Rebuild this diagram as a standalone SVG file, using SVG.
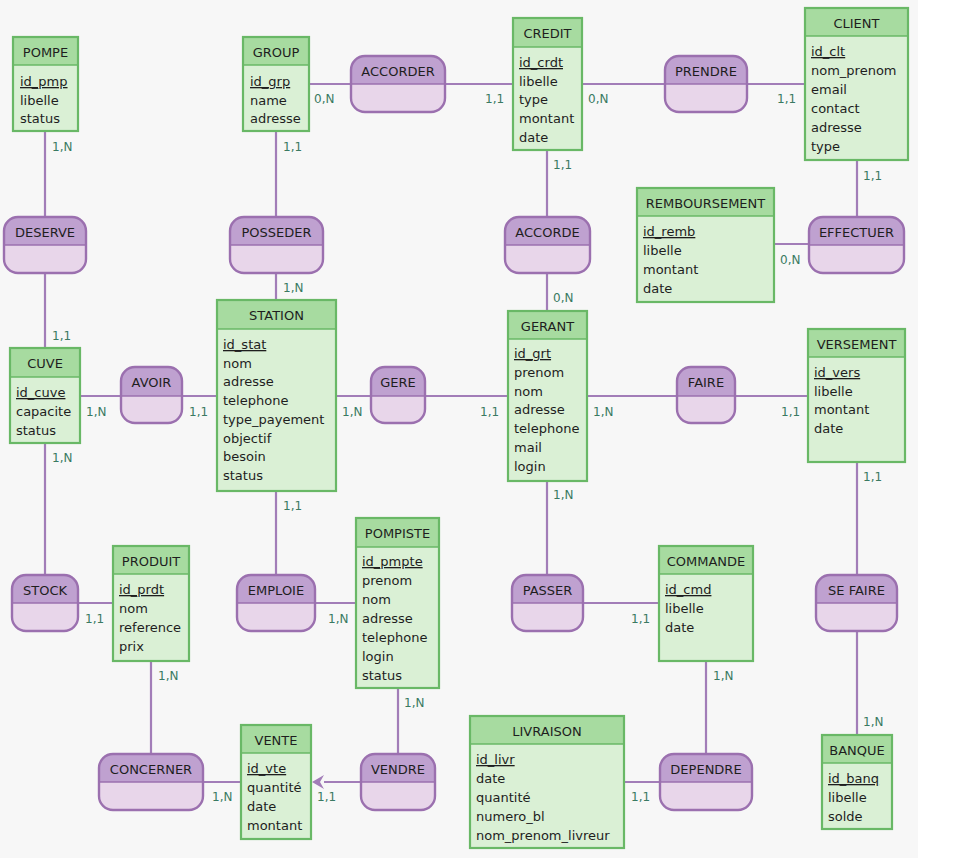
<svg xmlns="http://www.w3.org/2000/svg" width="963" height="868" viewBox="0 0 963 868">
<defs>
<style>
.bg{fill:#f7f7f7}
.eb{fill:#daf0d5}
.eh{fill:#a7dba0}
.eo{fill:none;stroke:#69b866;stroke-width:2.2}
.el{stroke:#69b866;stroke-width:1.5}
.rb{fill:#e8d6ea}
.rh{fill:#bfa1d0}
.ro{fill:none;stroke:#9b70af;stroke-width:2.4}
.rl{stroke:#9b70af;stroke-width:1.5}
.c{stroke:#a27db8;stroke-width:2.2;fill:none}
text{font-family:"DejaVu Sans",Verdana,sans-serif;font-size:13px;fill:#1e1e1e}
.t{text-anchor:middle}
.k{text-decoration:underline}
.cd{font-size:12px;fill:#3a7a62}
</style>
<marker id="arr" markerUnits="userSpaceOnUse" markerWidth="14" markerHeight="16" refX="1" refY="7" orient="auto">
<path d="M13 7 L1 0 L5 7 L1 14 Z" fill="#a27db8"/>
</marker>
</defs>
<rect x="0" y="0" width="963" height="868" fill="#ffffff"/>
<rect class="bg" x="0" y="0" width="918" height="858"/>

<g id="connectors">
<path class="c" d="M309 84 H351"/>
<path class="c" d="M445 84 H513"/>
<path class="c" d="M582 84 H665"/>
<path class="c" d="M747 84 H805"/>
<path class="c" d="M45 131 V217"/>
<path class="c" d="M45 273 V348"/>
<path class="c" d="M276 131 V217"/>
<path class="c" d="M276 273 V300"/>
<path class="c" d="M547 150 V217"/>
<path class="c" d="M547 273 V311"/>
<path class="c" d="M857 160 V217"/>
<path class="c" d="M774 244 H809"/>
<path class="c" d="M80 396 H121"/>
<path class="c" d="M182 396 H217"/>
<path class="c" d="M336 396 H371"/>
<path class="c" d="M425 396 H508"/>
<path class="c" d="M587 396 H677"/>
<path class="c" d="M735 396 H808"/>
<path class="c" d="M857 462 V575"/>
<path class="c" d="M857 631 V735"/>
<path class="c" d="M45 443 V575"/>
<path class="c" d="M78 603 H113"/>
<path class="c" d="M276 491 V575"/>
<path class="c" d="M315 603 H356"/>
<path class="c" d="M547 481 V575"/>
<path class="c" d="M583 603 H659"/>
<path class="c" d="M706 661 V754"/>
<path class="c" d="M624 782 H660"/>
<path class="c" d="M151 661 V754"/>
<path class="c" d="M203 782 H241"/>
<path class="c" d="M398 688 V754"/>
<path class="c" d="M361 782 H324" marker-end="url(#arr)"/>
<text class="cd" x="314" y="103">0,N</text>
<text class="cd" x="485" y="103">1,1</text>
<text class="cd" x="588" y="103">0,N</text>
<text class="cd" x="777" y="103">1,1</text>
<text class="cd" x="52" y="151">1,N</text>
<text class="cd" x="283" y="151">1,1</text>
<text class="cd" x="553" y="169">1,1</text>
<text class="cd" x="863" y="180">1,1</text>
<text class="cd" x="780" y="264">0,N</text>
<text class="cd" x="52" y="340">1,1</text>
<text class="cd" x="283" y="292">1,N</text>
<text class="cd" x="553" y="302">0,N</text>
<text class="cd" x="86" y="416">1,N</text>
<text class="cd" x="189" y="416">1,1</text>
<text class="cd" x="342" y="416">1,N</text>
<text class="cd" x="480" y="416">1,1</text>
<text class="cd" x="593" y="416">1,N</text>
<text class="cd" x="781" y="416">1,1</text>
<text class="cd" x="52" y="462">1,N</text>
<text class="cd" x="283" y="510">1,1</text>
<text class="cd" x="553" y="499">1,N</text>
<text class="cd" x="863" y="481">1,1</text>
<text class="cd" x="85" y="623">1,1</text>
<text class="cd" x="328" y="623">1,N</text>
<text class="cd" x="631" y="623">1,1</text>
<text class="cd" x="158" y="680">1,N</text>
<text class="cd" x="713" y="680">1,N</text>
<text class="cd" x="404" y="707">1,N</text>
<text class="cd" x="863" y="726">1,N</text>
<text class="cd" x="212" y="801">1,N</text>
<text class="cd" x="317" y="801">1,1</text>
<text class="cd" x="631" y="801">1,1</text>
</g>

<!-- Entities -->
<g id="POMPE">
<rect class="eb" x="13" y="37" width="65" height="94"/>
<rect class="eh" x="13" y="37" width="65" height="28"/>
<line class="el" x1="13" y1="65" x2="78" y2="65"/>
<rect class="eo" x="13" y="37" width="65" height="94"/>
<text class="t" x="45.5" y="57">POMPE</text>
<text class="k" x="20" y="86">id_pmp</text>
<text x="20" y="105">libelle</text>
<text x="20" y="123">status</text>
</g>
<g id="GROUP">
<rect class="eb" x="243" y="37" width="66" height="94"/>
<rect class="eh" x="243" y="37" width="66" height="28"/>
<line class="el" x1="243" y1="65" x2="309" y2="65"/>
<rect class="eo" x="243" y="37" width="66" height="94"/>
<text class="t" x="276" y="57">GROUP</text>
<text class="k" x="250" y="86">id_grp</text>
<text x="250" y="105">name</text>
<text x="250" y="123">adresse</text>
</g>
<g id="CREDIT">
<rect class="eb" x="513" y="18" width="69" height="132"/>
<rect class="eh" x="513" y="18" width="69" height="29"/>
<line class="el" x1="513" y1="47" x2="582" y2="47"/>
<rect class="eo" x="513" y="18" width="69" height="132"/>
<text class="t" x="547.5" y="38">CREDIT</text>
<text class="k" x="519" y="67">id_crdt</text>
<text x="519" y="86">libelle</text>
<text x="519" y="104">type</text>
<text x="519" y="123">montant</text>
<text x="519" y="142">date</text>
</g>
<g id="CLIENT">
<rect class="eb" x="805" y="8" width="103" height="152"/>
<rect class="eh" x="805" y="8" width="103" height="28"/>
<line class="el" x1="805" y1="36" x2="908" y2="36"/>
<rect class="eo" x="805" y="8" width="103" height="152"/>
<text class="t" x="856.5" y="28">CLIENT</text>
<text class="k" x="811" y="56">id_clt</text>
<text x="811" y="75">nom_prenom</text>
<text x="811" y="94">email</text>
<text x="811" y="113">contact</text>
<text x="811" y="132">adresse</text>
<text x="811" y="151">type</text>
</g>
<g id="REMBOURSEMENT">
<rect class="eb" x="637" y="188" width="137" height="114"/>
<rect class="eh" x="637" y="188" width="137" height="28"/>
<line class="el" x1="637" y1="216" x2="774" y2="216"/>
<rect class="eo" x="637" y="188" width="137" height="114"/>
<text class="t" x="705.5" y="208">REMBOURSEMENT</text>
<text class="k" x="643" y="236">id_remb</text>
<text x="643" y="255">libelle</text>
<text x="643" y="274">montant</text>
<text x="643" y="293">date</text>
</g>
<g id="STATION">
<rect class="eb" x="217" y="300" width="119" height="191"/>
<rect class="eh" x="217" y="300" width="119" height="29"/>
<line class="el" x1="217" y1="329" x2="336" y2="329"/>
<rect class="eo" x="217" y="300" width="119" height="191"/>
<text class="t" x="276.5" y="320">STATION</text>
<text class="k" x="223" y="349">id_stat</text>
<text x="223" y="368">nom</text>
<text x="223" y="386">adresse</text>
<text x="223" y="405">telephone</text>
<text x="223" y="424">type_payement</text>
<text x="223" y="443">objectif</text>
<text x="223" y="461">besoin</text>
<text x="223" y="480">status</text>
</g>
<g id="CUVE">
<rect class="eb" x="10" y="348" width="70" height="95"/>
<rect class="eh" x="10" y="348" width="70" height="29"/>
<line class="el" x1="10" y1="377" x2="80" y2="377"/>
<rect class="eo" x="10" y="348" width="70" height="95"/>
<text class="t" x="45" y="368">CUVE</text>
<text class="k" x="16" y="397">id_cuve</text>
<text x="16" y="416">capacite</text>
<text x="16" y="435">status</text>
</g>
<g id="GERANT">
<rect class="eb" x="508" y="311" width="79" height="170"/>
<rect class="eh" x="508" y="311" width="79" height="28"/>
<line class="el" x1="508" y1="339" x2="587" y2="339"/>
<rect class="eo" x="508" y="311" width="79" height="170"/>
<text class="t" x="547.5" y="331">GERANT</text>
<text class="k" x="514" y="358">id_grt</text>
<text x="514" y="377">prenom</text>
<text x="514" y="396">nom</text>
<text x="514" y="414">adresse</text>
<text x="514" y="433">telephone</text>
<text x="514" y="452">mail</text>
<text x="514" y="471">login</text>
</g>
<g id="VERSEMENT">
<rect class="eb" x="808" y="329" width="97" height="133"/>
<rect class="eh" x="808" y="329" width="97" height="28"/>
<line class="el" x1="808" y1="357" x2="905" y2="357"/>
<rect class="eo" x="808" y="329" width="97" height="133"/>
<text class="t" x="856.5" y="349">VERSEMENT</text>
<text class="k" x="814" y="377">id_vers</text>
<text x="814" y="396">libelle</text>
<text x="814" y="414">montant</text>
<text x="814" y="433">date</text>
</g>
<g id="PRODUIT">
<rect class="eb" x="113" y="546" width="76" height="115"/>
<rect class="eh" x="113" y="546" width="76" height="28"/>
<line class="el" x1="113" y1="574" x2="189" y2="574"/>
<rect class="eo" x="113" y="546" width="76" height="115"/>
<text class="t" x="151" y="566">PRODUIT</text>
<text class="k" x="119" y="594">id_prdt</text>
<text x="119" y="613">nom</text>
<text x="119" y="632">reference</text>
<text x="119" y="651">prix</text>
</g>
<g id="POMPISTE">
<rect class="eb" x="356" y="518" width="83" height="170"/>
<rect class="eh" x="356" y="518" width="83" height="29"/>
<line class="el" x1="356" y1="547" x2="439" y2="547"/>
<rect class="eo" x="356" y="518" width="83" height="170"/>
<text class="t" x="397.5" y="538">POMPISTE</text>
<text class="k" x="362" y="566">id_pmpte</text>
<text x="362" y="585">prenom</text>
<text x="362" y="604">nom</text>
<text x="362" y="623">adresse</text>
<text x="362" y="642">telephone</text>
<text x="362" y="661">login</text>
<text x="362" y="680">status</text>
</g>
<g id="COMMANDE">
<rect class="eb" x="659" y="546" width="94" height="115"/>
<rect class="eh" x="659" y="546" width="94" height="28"/>
<line class="el" x1="659" y1="574" x2="753" y2="574"/>
<rect class="eo" x="659" y="546" width="94" height="115"/>
<text class="t" x="706" y="566">COMMANDE</text>
<text class="k" x="665" y="594">id_cmd</text>
<text x="665" y="613">libelle</text>
<text x="665" y="632">date</text>
</g>
<g id="VENTE">
<rect class="eb" x="241" y="725" width="70" height="114"/>
<rect class="eh" x="241" y="725" width="70" height="28"/>
<line class="el" x1="241" y1="753" x2="311" y2="753"/>
<rect class="eo" x="241" y="725" width="70" height="114"/>
<text class="t" x="276" y="745">VENTE</text>
<text class="k" x="247" y="773">id_vte</text>
<text x="247" y="792">quantité</text>
<text x="247" y="811">date</text>
<text x="247" y="830">montant</text>
</g>
<g id="LIVRAISON">
<rect class="eb" x="470" y="716" width="154" height="132"/>
<rect class="eh" x="470" y="716" width="154" height="28"/>
<line class="el" x1="470" y1="744" x2="624" y2="744"/>
<rect class="eo" x="470" y="716" width="154" height="132"/>
<text class="t" x="547" y="736">LIVRAISON</text>
<text class="k" x="476" y="764">id_livr</text>
<text x="476" y="783">date</text>
<text x="476" y="802">quantité</text>
<text x="476" y="821">numero_bl</text>
<text x="476" y="840">nom_prenom_livreur</text>
</g>
<g id="BANQUE">
<rect class="eb" x="822" y="735" width="70" height="94"/>
<rect class="eh" x="822" y="735" width="70" height="28"/>
<line class="el" x1="822" y1="763" x2="892" y2="763"/>
<rect class="eo" x="822" y="735" width="70" height="94"/>
<text class="t" x="857" y="755">BANQUE</text>
<text class="k" x="828" y="783">id_banq</text>
<text x="828" y="802">libelle</text>
<text x="828" y="821">solde</text>
</g>

<!-- Relationships -->
<g id="ACCORDER">
<rect class="rb" x="351" y="56" width="94" height="56" rx="14"/>
<path class="rh" d="M351 84 V70 A14 14 0 0 1 365 56 H431 A14 14 0 0 1 445 70 V84 Z"/>
<line class="rl" x1="351" y1="84" x2="445" y2="84"/>
<rect class="ro" x="351" y="56" width="94" height="56" rx="14"/>
<text class="t" x="398" y="76">ACCORDER</text>
</g>
<g id="PRENDRE">
<rect class="rb" x="665" y="56" width="82" height="56" rx="14"/>
<path class="rh" d="M665 84 V70 A14 14 0 0 1 679 56 H733 A14 14 0 0 1 747 70 V84 Z"/>
<line class="rl" x1="665" y1="84" x2="747" y2="84"/>
<rect class="ro" x="665" y="56" width="82" height="56" rx="14"/>
<text class="t" x="706" y="76">PRENDRE</text>
</g>
<g id="DESERVE">
<rect class="rb" x="4" y="217" width="82" height="56" rx="14"/>
<path class="rh" d="M4 245 V231 A14 14 0 0 1 18 217 H72 A14 14 0 0 1 86 231 V245 Z"/>
<line class="rl" x1="4" y1="245" x2="86" y2="245"/>
<rect class="ro" x="4" y="217" width="82" height="56" rx="14"/>
<text class="t" x="45" y="237">DESERVE</text>
</g>
<g id="POSSEDER">
<rect class="rb" x="230" y="217" width="93" height="56" rx="14"/>
<path class="rh" d="M230 245 V231 A14 14 0 0 1 244 217 H309 A14 14 0 0 1 323 231 V245 Z"/>
<line class="rl" x1="230" y1="245" x2="323" y2="245"/>
<rect class="ro" x="230" y="217" width="93" height="56" rx="14"/>
<text class="t" x="276.5" y="237">POSSEDER</text>
</g>
<g id="ACCORDE">
<rect class="rb" x="505" y="217" width="85" height="56" rx="14"/>
<path class="rh" d="M505 245 V231 A14 14 0 0 1 519 217 H576 A14 14 0 0 1 590 231 V245 Z"/>
<line class="rl" x1="505" y1="245" x2="590" y2="245"/>
<rect class="ro" x="505" y="217" width="85" height="56" rx="14"/>
<text class="t" x="547.5" y="237">ACCORDE</text>
</g>
<g id="EFFECTUER">
<rect class="rb" x="809" y="217" width="95" height="56" rx="14"/>
<path class="rh" d="M809 245 V231 A14 14 0 0 1 823 217 H890 A14 14 0 0 1 904 231 V245 Z"/>
<line class="rl" x1="809" y1="245" x2="904" y2="245"/>
<rect class="ro" x="809" y="217" width="95" height="56" rx="14"/>
<text class="t" x="856.5" y="237">EFFECTUER</text>
</g>
<g id="AVOIR">
<rect class="rb" x="121" y="367" width="61" height="56" rx="14"/>
<path class="rh" d="M121 396 V381 A14 14 0 0 1 135 367 H168 A14 14 0 0 1 182 381 V396 Z"/>
<line class="rl" x1="121" y1="396" x2="182" y2="396"/>
<rect class="ro" x="121" y="367" width="61" height="56" rx="14"/>
<text class="t" x="151.5" y="387">AVOIR</text>
</g>
<g id="GERE">
<rect class="rb" x="371" y="367" width="54" height="56" rx="14"/>
<path class="rh" d="M371 396 V381 A14 14 0 0 1 385 367 H411 A14 14 0 0 1 425 381 V396 Z"/>
<line class="rl" x1="371" y1="396" x2="425" y2="396"/>
<rect class="ro" x="371" y="367" width="54" height="56" rx="14"/>
<text class="t" x="398" y="387">GERE</text>
</g>
<g id="FAIRE">
<rect class="rb" x="677" y="367" width="58" height="56" rx="14"/>
<path class="rh" d="M677 396 V381 A14 14 0 0 1 691 367 H721 A14 14 0 0 1 735 381 V396 Z"/>
<line class="rl" x1="677" y1="396" x2="735" y2="396"/>
<rect class="ro" x="677" y="367" width="58" height="56" rx="14"/>
<text class="t" x="706" y="387">FAIRE</text>
</g>
<g id="STOCK">
<rect class="rb" x="12" y="575" width="66" height="56" rx="14"/>
<path class="rh" d="M12 603 V589 A14 14 0 0 1 26 575 H64 A14 14 0 0 1 78 589 V603 Z"/>
<line class="rl" x1="12" y1="603" x2="78" y2="603"/>
<rect class="ro" x="12" y="575" width="66" height="56" rx="14"/>
<text class="t" x="45" y="595">STOCK</text>
</g>
<g id="EMPLOIE">
<rect class="rb" x="237" y="575" width="78" height="56" rx="14"/>
<path class="rh" d="M237 603 V589 A14 14 0 0 1 251 575 H301 A14 14 0 0 1 315 589 V603 Z"/>
<line class="rl" x1="237" y1="603" x2="315" y2="603"/>
<rect class="ro" x="237" y="575" width="78" height="56" rx="14"/>
<text class="t" x="276" y="595">EMPLOIE</text>
</g>
<g id="PASSER">
<rect class="rb" x="512" y="575" width="71" height="56" rx="14"/>
<path class="rh" d="M512 603 V589 A14 14 0 0 1 526 575 H569 A14 14 0 0 1 583 589 V603 Z"/>
<line class="rl" x1="512" y1="603" x2="583" y2="603"/>
<rect class="ro" x="512" y="575" width="71" height="56" rx="14"/>
<text class="t" x="547.5" y="595">PASSER</text>
</g>
<g id="SE_FAIRE">
<rect class="rb" x="816" y="575" width="81" height="56" rx="14"/>
<path class="rh" d="M816 603 V589 A14 14 0 0 1 830 575 H883 A14 14 0 0 1 897 589 V603 Z"/>
<line class="rl" x1="816" y1="603" x2="897" y2="603"/>
<rect class="ro" x="816" y="575" width="81" height="56" rx="14"/>
<text class="t" x="856.5" y="595">SE FAIRE</text>
</g>
<g id="CONCERNER">
<rect class="rb" x="99" y="754" width="104" height="56" rx="14"/>
<path class="rh" d="M99 782 V768 A14 14 0 0 1 113 754 H189 A14 14 0 0 1 203 768 V782 Z"/>
<line class="rl" x1="99" y1="782" x2="203" y2="782"/>
<rect class="ro" x="99" y="754" width="104" height="56" rx="14"/>
<text class="t" x="151" y="774">CONCERNER</text>
</g>
<g id="VENDRE">
<rect class="rb" x="361" y="754" width="74" height="56" rx="14"/>
<path class="rh" d="M361 782 V768 A14 14 0 0 1 375 754 H421 A14 14 0 0 1 435 768 V782 Z"/>
<line class="rl" x1="361" y1="782" x2="435" y2="782"/>
<rect class="ro" x="361" y="754" width="74" height="56" rx="14"/>
<text class="t" x="398" y="774">VENDRE</text>
</g>
<g id="DEPENDRE">
<rect class="rb" x="660" y="754" width="92" height="56" rx="14"/>
<path class="rh" d="M660 782 V768 A14 14 0 0 1 674 754 H738 A14 14 0 0 1 752 768 V782 Z"/>
<line class="rl" x1="660" y1="782" x2="752" y2="782"/>
<rect class="ro" x="660" y="754" width="92" height="56" rx="14"/>
<text class="t" x="706" y="774">DEPENDRE</text>
</g>
</svg>
